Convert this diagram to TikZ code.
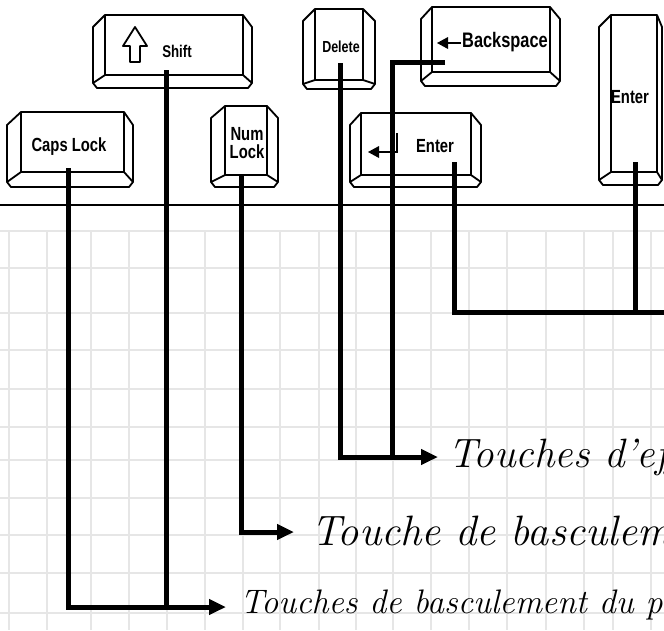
\documentclass[tikz,border=0pt]{standalone}
\usepackage{fontspec}
\usetikzlibrary{arrows.meta}
\newfontfamily\keyfont[FakeStretch=0.78]{Liberation Sans Bold}
\definecolor{gridgray}{HTML}{E6E6E6}
\tikzset{
  gridline/.style={gridgray, line width=2pt},
  keyline/.style={black, line width=1.8pt, line join=round},
  conn/.style={black, line width=5pt, line join=miter},
  connarrow/.style={conn, -{Triangle[length=17pt,width=15pt]}},
  keylbl/.style={inner sep=0pt, font=\keyfont},
  label/.style={inner sep=0pt, anchor=base west, font=\itshape},
}
% L T R B iL iR iB d
\newcommand\drawkeycap[8]{%
  \draw[keyline] (#5,#2) -- (#6,#2) -- (#3,#2+#8) -- (#3,#4-5) -- (#3-4,#4) -- (#1+4,#4) -- (#1,#4-5) -- (#1,#2+#8) -- cycle;
  \draw[keyline] (#5,#2) -- (#5,#7) -- (#6,#7) -- (#6,#2);
  \draw[keyline] (#5,#7) -- (#1,#4-5);
  \draw[keyline] (#6,#7) -- (#3,#4-5);
}
\begin{document}
\begin{tikzpicture}[x=1pt,y=-1pt]
\useasboundingbox (0,0) rectangle (664,630);
\clip (0,0) rectangle (664,630);
\fill[white] (0,0) rectangle (664,630);
% grid
\foreach \gy in {231,268,313,350,389,427,460,498,535,573,613}
  \draw[gridline] (0,\gy) -- (664,\gy);
\foreach \gx in {8.5,46.6,91,129,167,205,243,279.5,318.5,355.7,393,431,469,507,545.5,583.6,613,651}
  \draw[gridline] (\gx,231) -- (\gx,630);
% separator
\draw[black, line width=1.3pt] (0,205) -- (664,205);

% keys
\drawkeycap{7}{112}{133}{187}{21}{124}{172}{13}
\node[keylbl, font=\keyfont\fontsize{19}{19}\selectfont] (capslock) at (69,147) {Caps Lock};

\drawkeycap{93}{15}{252}{88}{105}{243}{75}{12}
\node[keylbl, font=\keyfont\fontsize{17}{17}\selectfont] (shift) at (177,51) {Shift};
\draw[keyline] (135,27) -- (147,46) -- (140,46) -- (140,62) -- (130,62) -- (130,46) -- (123,46) -- cycle;

\drawkeycap{211}{106}{278}{187}{225}{267}{175}{12}
\node[keylbl, font=\keyfont\fontsize{19}{19}\selectfont, align=center] (numlock) at (247,143) {Num\\[-1pt]Lock};

\drawkeycap{303}{9}{375}{89}{315}{363}{80}{12}
\node[keylbl, font=\keyfont\fontsize{16}{16}\selectfont] (delete) at (341,47) {Delete};

\drawkeycap{421}{7}{560}{86}{432}{550}{72}{12}
\node[keylbl, font=\keyfont\fontsize{21}{21}\selectfont] (backspace) at (505,42) {Backspace};
\draw[black, line width=2.8pt] (446,43) -- (461,43);
\fill[black] (437,43) -- (448,37) -- (448,49) -- cycle;

\drawkeycap{350}{113}{481}{187}{361}{471}{175}{12}
\node[keylbl, font=\keyfont\fontsize{19}{19}\selectfont] (enter) at (435,146) {Enter};
\draw[black, line width=2.8pt] (397,133) -- (397,152) -- (377,152);
\fill[black] (368,152) -- (379,146) -- (379,158) -- cycle;

\drawkeycap{599}{15}{662}{185}{611}{657}{172}{12}
\node[keylbl, font=\keyfont\fontsize{19}{19}\selectfont] (entertall) at (630,97) {Enter};

% connector anchor points
\coordinate (capsA) at (68,168);
\coordinate (capsB) at (68,607);
\coordinate (shiftA) at (166,70);
\coordinate (shiftB) at (166,607);
\coordinate (tipOne) at (226,607);
\coordinate (numA) at (241,176);
\coordinate (numB) at (241,532);
\coordinate (tipTwo) at (294,532);
\coordinate (delA) at (340,63);
\coordinate (delB) at (340,457);
\coordinate (bsA) at (445,62);
\coordinate (bsB) at (392,62);
\coordinate (bsC) at (392,457);
\coordinate (tipThree) at (438,457);
\coordinate (entA) at (454,162);
\coordinate (entB) at (454,312);
\coordinate (entEnd) at (670,312);
\coordinate (etA) at (635,162);
\coordinate (etB) at (635,312);

% labels
\node[label, font=\itshape\fontsize{41}{41}\selectfont] (lblone) at (448,467) {Touches d'effacement};
\node[label, font=\itshape\fontsize{42.5}{42.5}\selectfont] (lbltwo) at (311,545) {Touche de basculement};
\node[label, font=\itshape\fontsize{34}{34}\selectfont] (lblthree) at (240,613) {Touches de basculement du p};

% connectors
\draw[connarrow] (capsA) -- (capsB) -- (tipOne);
\draw[conn] (shiftA) -- (shiftB);
\draw[connarrow] (numA) -- (numB) -- (tipTwo);
\draw[connarrow] (delA) -- (delB) -- (tipThree);
\draw[conn] (bsA) -- (bsB) -- (bsC);
\draw[conn] (entA) -- (entB) -- (entEnd);
\draw[conn] (etA) -- (etB);
\end{tikzpicture}
\end{document}
